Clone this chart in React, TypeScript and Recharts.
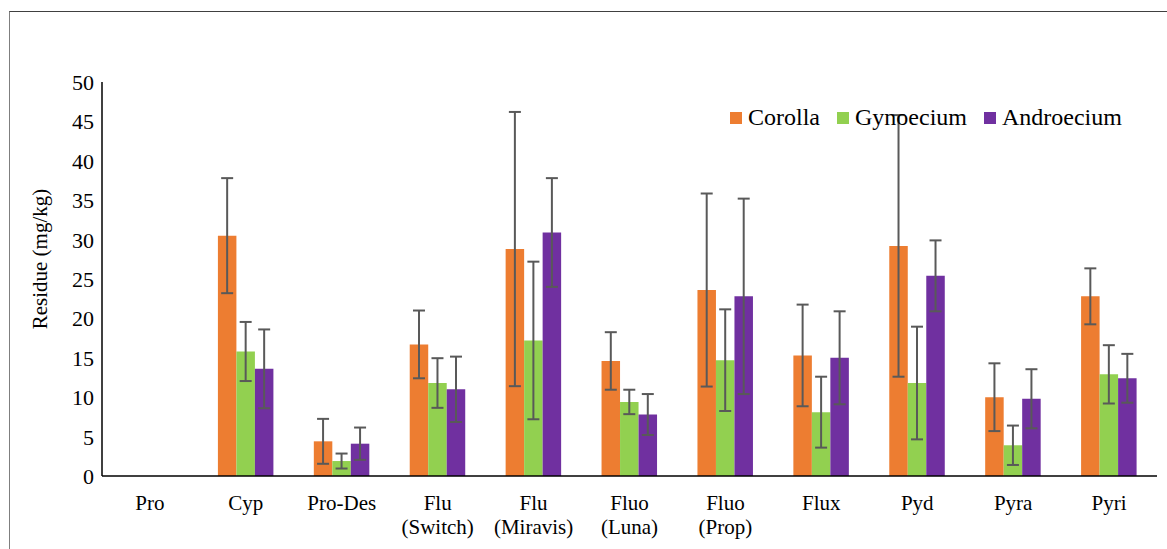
import { BarChart, Bar, XAxis, YAxis, ErrorBar, Legend } from 'recharts';

const categories = [
  'Pro',
  'Cyp',
  'Pro-Des',
  'Flu\n(Switch)',
  'Flu\n(Miravis)',
  'Fluo\n(Luna)',
  'Fluo\n(Prop)',
  'Flux',
  'Pyd',
  'Pyra',
  'Pyri',
];

const corolla = [0, 30.5, 4.4, 16.7, 28.8, 14.6, 23.6, 15.3, 29.2, 10.0, 22.8];
const corollaErr = [0, 7.3, 2.85, 4.3, 17.4, 3.65, 12.25, 6.45, 16.6, 4.3, 3.55];
const gynoecium = [0, 15.8, 1.9, 11.8, 17.2, 9.4, 14.7, 8.1, 11.8, 3.9, 12.9];
const gynoeciumErr = [0, 3.75, 0.95, 3.15, 10.0, 1.55, 6.45, 4.5, 7.15, 2.5, 3.7];
const androecium = [0, 13.6, 4.1, 11.0, 30.9, 7.8, 22.8, 15.0, 25.4, 9.8, 12.4];
const androeciumErr = [0, 5.0, 2.05, 4.15, 6.9, 2.6, 12.4, 5.9, 4.5, 3.75, 3.1];

const yTicks = [0, 5, 10, 15, 20, 25, 30, 35, 40, 45, 50];

const series = [
  { key: 'corolla', name: 'Corolla', color: '#ED7D31' },
  { key: 'gynoecium', name: 'Gynoecium', color: '#92D050' },
  { key: 'androecium', name: 'Androecium', color: '#7030A0' },
];

const data = categories.map((name, i) => ({
  name,
  corolla: corolla[i],
  corollaErr: corollaErr[i],
  gynoecium: gynoecium[i],
  gynoeciumErr: gynoeciumErr[i],
  androecium: androecium[i],
  androeciumErr: androeciumErr[i],
}));

const FONT = 'Liberation Serif, Times New Roman, Times, DejaVu Serif, serif';

function CategoryTick({ x, y, payload }: any) {
  const lines = String(payload.value).split('\n');
  return (
    <text
      x={x}
      y={y}
      textAnchor='middle'
      style={{ fontFamily: FONT, fontSize: 21 }}
      fill='#000'
    >
      {lines.map((line, i) => (
        <tspan key={i} x={x} dy={i === 0 ? 26 : 24}>
          {line}
        </tspan>
      ))}
    </text>
  );
}

function ValueTick({ x, y, payload }: any) {
  return (
    <text
      x={x}
      y={y}
      dy={8}
      textAnchor='end'
      style={{ fontFamily: FONT, fontSize: 22 }}
      fill='#000'
    >
      {payload.value}
    </text>
  );
}

function AxisTitle({ viewBox }: any) {
  const cx = viewBox.x - 2;
  const cy = viewBox.y + viewBox.height / 2 - 20;
  return (
    <text
      x={cx}
      y={cy}
      transform={`rotate(-90 ${cx} ${cy})`}
      textAnchor='middle'
      dominantBaseline='central'
      style={{ fontFamily: FONT, fontSize: 21 }}
      fill='#000'
    >
      Residue (mg/kg)
    </text>
  );
}

function LegendContent() {
  return (
    <div
      style={{
        display: 'flex',
        alignItems: 'center',
        fontFamily: FONT,
        fontSize: 24,
        color: '#000',
      }}
    >
      {series.map((s) => (
        <div
          key={s.key}
          style={{ display: 'flex', alignItems: 'center', marginRight: 17 }}
        >
          <span
            style={{
              width: 12,
              height: 12,
              background: s.color,
              marginRight: 6,
              display: 'inline-block',
            }}
          />
          <span>{s.name}</span>
        </div>
      ))}
    </div>
  );
}

export default function App() {
  return (
    <div
      style={{
        position: 'absolute',
        left: 0,
        top: 0,
        width: 1167,
        height: 549,
        background: '#fff',
        fontFamily: FONT,
      }}
    >
      <div
        style={{
          position: 'absolute',
          left: 9,
          top: 11,
          right: 0,
          bottom: -2,
          borderLeft: '1.5px solid #7f7f7f',
          borderTop: '1.5px solid #404040',
        }}
      />
      <BarChart
        width={1167}
        height={549}
        data={data}
        margin={{ top: 82, right: 10, bottom: 13, left: 42 }}
        barGap={0}
        barSize={18.5}
        style={{ position: 'absolute', left: 0, top: 0 }}
      >
        <XAxis
          dataKey='name'
          height={60}
          interval={0}
          tickLine={false}
          axisLine={{ stroke: '#000', strokeWidth: 1.5 }}
          tick={<CategoryTick />}
        />
        <XAxis
          xAxisId='top'
          orientation='top'
          dataKey='name'
          height={0}
          tick={false}
          tickLine={false}
          axisLine={{ stroke: '#808080', strokeWidth: 1.5 }}
        />
        <YAxis
          width={60}
          domain={[0, 50]}
          ticks={yTicks}
          interval={0}
          tickLine={false}
          axisLine={{ stroke: '#000', strokeWidth: 1.5 }}
          tick={<ValueTick />}
          label={<AxisTitle />}
        />
        <YAxis
          yAxisId='right'
          orientation='right'
          width={0}
          domain={[0, 50]}
          tick={false}
          tickLine={false}
          axisLine={{ stroke: '#000', strokeWidth: 1.5 }}
        />
        <Legend
          layout='horizontal'
          verticalAlign='middle'
          align='center'
          content={<LegendContent />}
          wrapperStyle={{ top: 104, left: 730, width: 430 }}
        />
        {series.map((s) => (
          <Bar
            key={s.key}
            dataKey={s.key}
            name={s.name}
            fill={s.color}
            isAnimationActive={false}
          >
            <ErrorBar
              dataKey={`${s.key}Err`}
              width={6}
              strokeWidth={2}
              stroke='#595959'
              direction='y'
            />
          </Bar>
        ))}
      </BarChart>
    </div>
  );
}
